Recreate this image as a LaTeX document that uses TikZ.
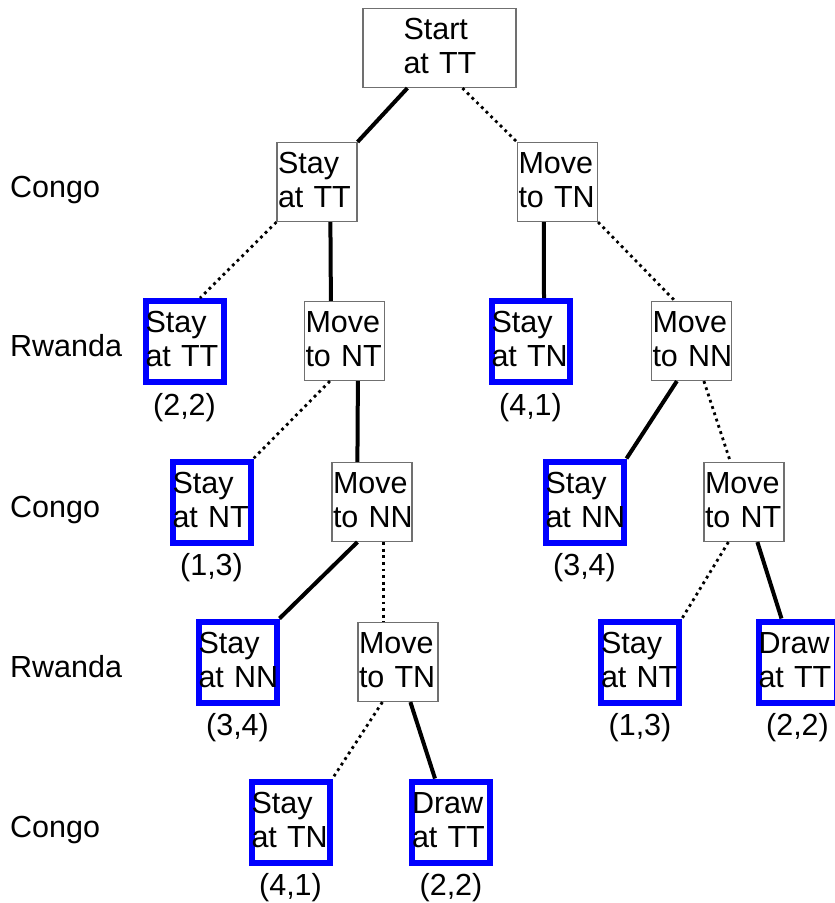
\documentclass[tikz,border=0pt]{standalone}
\usepackage{fontspec}
\setmainfont{Liberation Sans}
\usetikzlibrary{calc}
\definecolor{boxgray}{RGB}{112,112,112}
\tikzset{
  gbox/.style={draw=boxgray, line width=1.2pt, fill=white, minimum height=79pt,
    text width=78pt, inner xsep=1pt, inner ysep=0pt, align=left,
    text height=10pt, text depth=28pt},
  bbox/.style={draw=blue, line width=6pt, fill=white, minimum height=81pt,
    text width=78pt, inner sep=0pt, align=left,
    text height=10pt, text depth=28pt},
  sol/.style={line width=4pt},
  dotl/.style={line width=2.8pt, dash pattern=on 2.8pt off 3.8pt},
  pay/.style={anchor=base, inner sep=0pt},
  rowlab/.style={anchor=base west, inner sep=0pt}
}
\begin{document}
\begin{tikzpicture}[x=1pt, y=-1pt, font=\fontsize{30.5}{34}\selectfont]
\useasboundingbox (0,0) rectangle (835,903);
% nodes
\node[gbox, minimum width=153pt, text width=72pt] (start) at (439.5,48) {Start\\at~TT};
\node[gbox] (sTT1) at (317,182) {Stay\\at~TT};
\node[gbox] (mTN1) at (557.5,182) {Move\\to~TN};
\node[bbox] (sTT2) at (184.5,341.5) {Stay\\at~TT};
\node[gbox] (mNT2) at (344.5,341) {Move\\to~NT};
\node[bbox] (sTN2) at (530.5,341.5) {Stay\\at~TN};
\node[gbox] (mNN2) at (691.5,341) {Move\\to~NN};
\node[bbox] (sNT3) at (211.5,502) {Stay\\at~NT};
\node[gbox] (mNN3) at (372,502) {Move\\to~NN};
\node[bbox] (sNN3) at (584.5,502) {Stay\\at~NN};
\node[gbox] (mNT3) at (744,502) {Move\\to~NT};
\node[bbox] (sNN4) at (237.5,662) {Stay\\at~NN};
\node[gbox] (mTN4) at (398,662) {Move\\to~TN};
\node[bbox] (sNT4) at (640,662) {Stay\\at~NT};
\node[bbox] (dTT4) at (797.5,662) {Draw\\at~TT};
\node[bbox] (sTN5) at (290.5,822) {Stay\\at~TN};
\node[bbox] (dTT5) at (451,822) {Draw\\at~TT};
% payoffs
\node[pay] (p1) at ($(sTT2.south)+(0,30)$) {(2,2)};
\node[pay] (p2) at ($(sTN2.south)+(0,30)$) {(4,1)};
\node[pay] (p3) at ($(sNT3.south)+(0,30)$) {(1,3)};
\node[pay] (p4) at ($(sNN3.south)+(0,30)$) {(3,4)};
\node[pay] (p5) at ($(sNN4.south)+(0,30)$) {(3,4)};
\node[pay] (p6) at ($(sNT4.south)+(0,30)$) {(1,3)};
\node[pay] (p7) at ($(dTT4.south)+(0,30)$) {(2,2)};
\node[pay] (p8) at ($(sTN5.south)+(0,30)$) {(4,1)};
\node[pay] (p9) at ($(dTT5.south)+(0,30)$) {(2,2)};
% row labels
\node[rowlab] (r1) at (10,197) {Congo};
\node[rowlab] (r2) at (10,356) {Rwanda};
\node[rowlab] (r3) at (10,517) {Congo};
\node[rowlab] (r4) at (10,677) {Rwanda};
\node[rowlab] (r5) at (10,837) {Congo};
% edges
\draw[sol]  ($(start.south west)+(45,0)$) -- (sTT1.north east);
\draw[dotl] ($(start.south west)+(100,0)$) -- (mTN1.north west);
\draw[dotl] (sTT1.south west) -- ($(sTT2.north)+(15.5,0)$);
\draw[sol]  ($(sTT1.south west)+(54,0)$) -- ($(mNT2.north west)+(27,0)$);
\draw[sol]  ($(mTN1.south west)+(27,0)$) -- ($(sTN2.north)+(13.5,0)$);
\draw[dotl] (mTN1.south east) -- ($(mNN2.north west)+(24,0)$);
\draw[dotl] ($(mNT2.south west)+(26,0)$) -- (sNT3.north east);
\draw[sol]  ($(mNT2.south west)+(54,0)$) -- ($(mNN3.north west)+(26,0)$);
\draw[sol]  ($(mNN2.south west)+(26,0)$) -- (sNN3.north east);
\draw[dotl] ($(mNN2.south west)+(53,0)$) -- ($(mNT3.north west)+(27,0)$);
\draw[sol]  ($(mNN3.south west)+(26,0)$) -- (sNN4.north east);
\draw[dotl] ($(mNN3.south west)+(52,0)$) -- ($(mTN4.north west)+(26,0)$);
\draw[dotl] ($(mNT3.south west)+(25,0)$) -- (sNT4.north east);
\draw[sol]  ($(mNT3.south west)+(54,0)$) -- ($(dTT4.north west)+(26,0)$);
\draw[dotl] ($(mTN4.south west)+(25,0)$) -- (sTN5.north east);
\draw[sol]  ($(mTN4.south west)+(53,0)$) -- ($(dTT5.north west)+(26,0)$);
\end{tikzpicture}
\end{document}
